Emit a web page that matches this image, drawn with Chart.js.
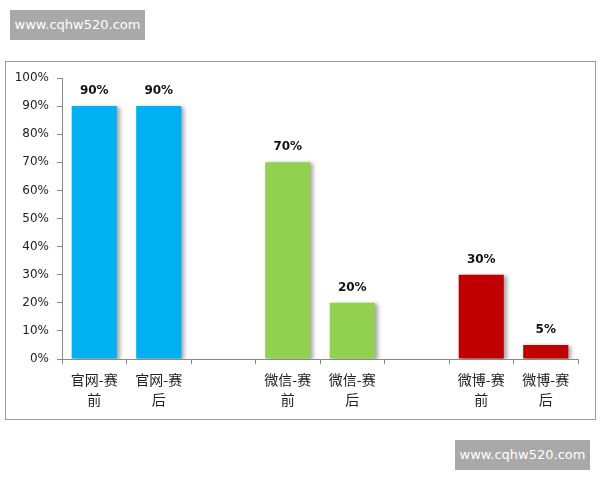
<!DOCTYPE html>
<html>
<head>
<meta charset="utf-8">
<script src="https://cdn.jsdelivr.net/npm/chart.js@4"></script>
<style>
  body { margin: 0; background: #fff; width: 600px; height: 480px; position: relative; overflow: hidden; }
  .mark { position: absolute; background: #a9a9a9; color: #fff; font: 13px "DejaVu Sans", sans-serif; text-align: center; line-height: 30px; width: 135px; height: 30px; }
  #frame { position: absolute; left: 5px; top: 61px; width: 589px; height: 357px; border: 1px solid #9a9a9a; }
  #wrap { position: absolute; left: 0; top: 0; width: 600px; height: 480px; }
</style>
</head>
<body>
<div class="mark" style="left:10px;top:10px;">www.cqhw520.com</div>
<div class="mark" style="left:455px;top:440px;">www.cqhw520.com</div>
<div id="frame"></div>
<div id="wrap"><canvas id="barchart" width="600" height="480"></canvas></div>
<script>
// categorias (as vazias são os espaços entre os grupos)
const categories = [['官网-赛', '前'], ['官网-赛', '后'], '', ['微信-赛', '前'], ['微信-赛', '后'], '', ['微博-赛', '前'], ['微博-赛', '后']];
const values = [90, 90, null, 70, 20, null, 30, 5];
const yTicks = [0, 10, 20, 30, 40, 50, 60, 70, 80, 90, 100];

const barColors = ['#00b0f0', '#00b0f0', '#fff', '#92d050', '#92d050', '#fff', '#c00000', '#c00000'];

const ctx = document.getElementById('barchart');

// rótulos em cima das barras + sombra
const labelPlugin = {
  id: 'labels',
  beforeDatasetDraw(chart) {
    const c = chart.ctx;
    c.save();
    c.shadowColor = 'rgba(0,0,0,0.35)';
    c.shadowBlur = 4;
    c.shadowOffsetX = 3;
    c.shadowOffsetY = 1;
  },
  afterDatasetDraw(chart) {
    chart.ctx.restore();
  },
  afterDatasetsDraw(chart) {
    const c = chart.ctx;
    const meta = chart.getDatasetMeta(0);
    c.save();
    c.font = 'bold 12px "DejaVu Sans", sans-serif';
    c.fillStyle = '#111';
    c.textAlign = 'center';
    c.textBaseline = 'middle';
    meta.data.forEach((bar, i) => {
      if (values[i] == null) return;
      c.fillText(values[i] + '%', bar.x, bar.y - 15);
    });
    c.restore();
  }
};

new Chart(ctx, {
  type: 'bar',
  data: {
    labels: categories,
    datasets: [{
      data: values,
      backgroundColor: barColors,
      borderWidth: 0,
      barPercentage: 0.7,
      categoryPercentage: 1
    }]
  },
  options: {
    responsive: false,
    animation: false,
    devicePixelRatio: 1,
    layout: { padding: { top: 78, right: 22, left: 0, bottom: 0 } },
    scales: {
      x: {
        grid: { drawOnChartArea: false, tickLength: 5, color: '#888', offset: true },
        border: { color: '#888' },
        ticks: {
          color: '#222',
          font: { family: '"Noto Sans CJK SC", sans-serif', size: 14, lineHeight: 1.4 },
          padding: 6,
          maxRotation: 0,
          autoSkip: false
        },
        afterFit(scale) { scale.height = 121; }
      },
      y: {
        min: 0,
        max: 100,
        afterBuildTicks(scale) { scale.ticks = yTicks.map(v => ({ value: v })); },
        grid: { drawOnChartArea: false, tickLength: 5, color: '#888' },
        border: { color: '#888' },
        ticks: {
          color: '#222',
          font: { family: '"DejaVu Sans", sans-serif', size: 12 },
          padding: 8,
          callback: v => v + '%'
        },
        afterFit(scale) { scale.width = 62; }
      }
    },
    plugins: {
      legend: { display: false },
      tooltip: { enabled: false }
    }
  },
  plugins: [labelPlugin]
});
</script>
</body>
</html>
